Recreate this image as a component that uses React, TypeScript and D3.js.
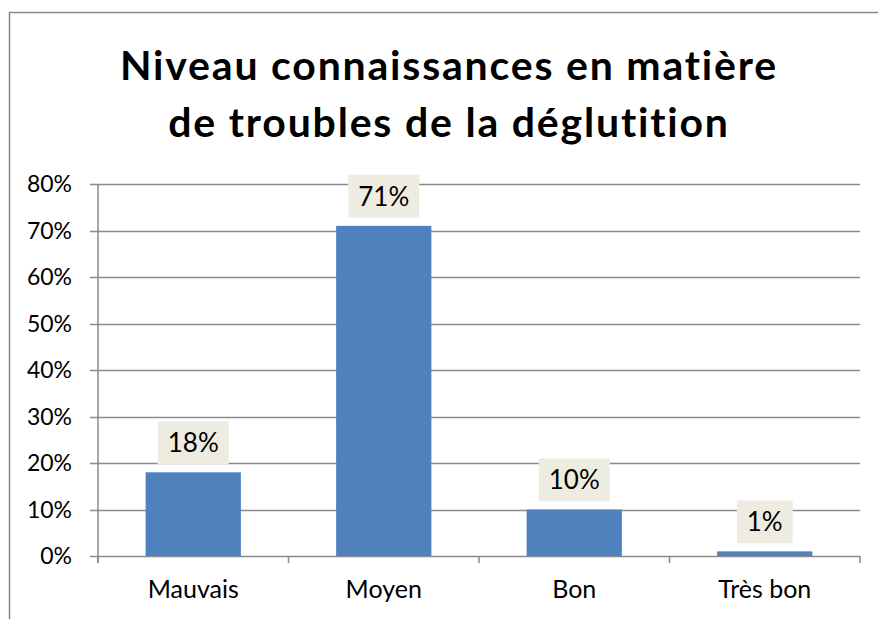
import React from "react";
import * as d3 from "d3";

const titleLines = ["Niveau connaissances en matière", "de troubles de la déglutition"];
const categories = ["Mauvais", "Moyen", "Bon", "Très bon"];
const values = [0.18, 0.71, 0.10, 0.01];
const valueLabels = ["18%", "71%", "10%", "1%"];
const yTicks = [0, 0.1, 0.2, 0.3, 0.4, 0.5, 0.6, 0.7, 0.8];

const W = 878;
const H = 619;
const FONT = "Lato, 'Open Sans', sans-serif";

function measure(text: string, size: number, weight = "normal") {
  const c = document.createElement("canvas").getContext("2d");
  if (!c) return text.length * size * 0.55;
  c.font = `${weight} ${size}px Lato`;
  return c.measureText(text).width;
}

export default function App() {
  const left = 98, right = 860, top = 184, bottom = 556;
  const x = d3.scaleBand<string>().domain(categories).range([left, right]).paddingInner(0.5).paddingOuter(0.25);
  const y = d3.scaleLinear().domain([0, 0.8]).range([bottom, top]);
  const step = x.step();
  const boundaries = d3.range(categories.length + 1).map((i) => left + i * step);
  const fmt = d3.format(".0%");
  const gridColor = "#8a8a8a";
  const labelSize = 26;

  return (
    <div style={{ position: "absolute", left: 0, top: 0 }}>
      <svg width={W} height={H} style={{ display: "block", background: "#fff" }}>
        <rect x={9.5} y={12.5} width={W + 20} height={H + 20} fill="#fff" stroke="#888" strokeWidth={1.5} />
        {titleLines.map((t, i) => (
          <text key={t} x={449} y={80 + i * 57} textAnchor="middle" fontFamily={FONT} fontWeight="bold" fontSize={41} letterSpacing={1.8} fill="#000">
            {t}
          </text>
        ))}
        {yTicks.map((t) => (
          <g key={t}>
            <line x1={90} x2={right} y1={Math.round(y(t)) + 0.5} y2={Math.round(y(t)) + 0.5} stroke={gridColor} strokeWidth={1.5} />
            <text x={72} y={y(t)} dy="0.36em" textAnchor="end" fontFamily={FONT} fontSize={23} fill="#000">
              {fmt(t)}
            </text>
          </g>
        ))}
        <line x1={left} x2={left} y1={top} y2={bottom + 7} stroke={gridColor} strokeWidth={1.5} />
        {boundaries.map((b, i) => (
          <line key={i} x1={b} x2={b} y1={bottom} y2={bottom + 7} stroke={gridColor} strokeWidth={1.5} />
        ))}
        {categories.map((c, i) => {
          const bx = x(c) as number;
          const bw = x.bandwidth();
          const yt = y(values[i]);
          const tw = measure(valueLabels[i], labelSize);
          const boxW = tw + 20;
          const boxH = 43;
          const cx = bx + bw / 2;
          const boxBottom = yt - 8;
          return (
            <g key={c}>
              <rect x={bx} y={yt} width={bw} height={bottom - yt} fill="#4F81BD" />
              <rect x={cx - boxW / 2} y={boxBottom - boxH} width={boxW} height={boxH} fill="#EEECE1" />
              <text x={cx} y={boxBottom - boxH / 2} dy="0.36em" textAnchor="middle" fontFamily={FONT} fontSize={labelSize} fill="#000">
                {valueLabels[i]}
              </text>
              <text x={cx} y={598} textAnchor="middle" fontFamily={FONT} fontSize={25} fill="#000">
                {c}
              </text>
            </g>
          );
        })}
      </svg>
    </div>
  );
}
